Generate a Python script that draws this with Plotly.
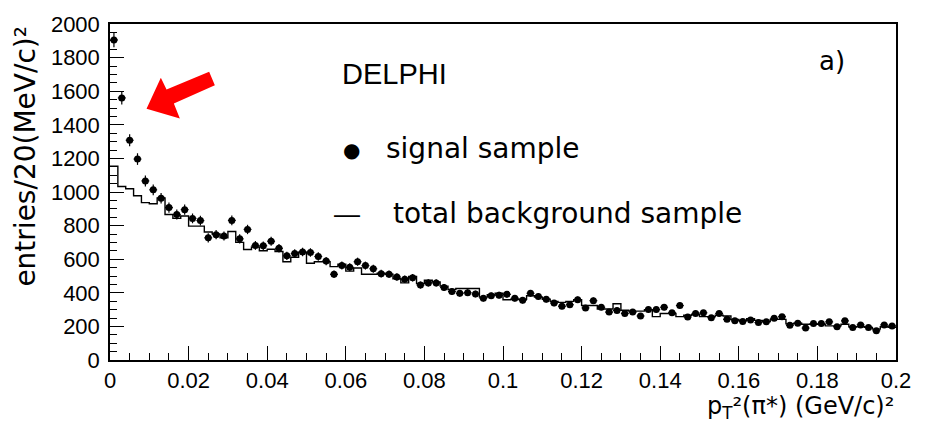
import numpy as np
import plotly.graph_objects as go

# bin edges: 100 bins of 0.002 (GeV/c)^2 from 0 to 0.2
bin_edges = np.linspace(0, 0.2, 101)
bin_centers = (bin_edges[:-1] + bin_edges[1:]) / 2

signal = [1905, 1560, 1308, 1196, 1066, 1013, 963, 907, 866, 895,
          843, 830, 727, 746, 738, 831, 721, 777, 682, 680,
          707, 665, 620, 634, 643, 640, 616, 589, 510, 562,
          552, 585, 562, 543, 514, 510, 494, 481, 490, 446,
          459, 459, 432, 407, 397, 401, 393, 368, 382, 386,
          391, 368, 355, 397, 378, 362, 339, 320, 329, 359,
          310, 353, 314, 285, 295, 277, 285, 262, 300, 300,
          314, 281, 324, 256, 277, 281, 252, 277, 242, 233,
          229, 238, 223, 227, 248, 258, 207, 219, 190, 217,
          217, 227, 198, 233, 194, 209, 194, 174, 209, 203]

background = [1153, 1033, 1019, 978, 937, 930, 965, 866, 843, 857,
              797, 797, 762, 750, 727, 765, 700, 658, 673, 650,
              659, 646, 585, 612, 642, 576, 585, 585, 556, 570,
              529, 548, 510, 510, 517, 510, 484, 459, 498, 455,
              475, 465, 440, 420, 426, 426, 426, 374, 388, 397,
              359, 362, 362, 382, 374, 362, 349, 343, 349, 359,
              324, 324, 304, 304, 335, 296, 291, 291, 300, 258,
              277, 277, 258, 266, 271, 258, 258, 266, 262, 242,
              236, 246, 236, 229, 242, 242, 215, 219, 213, 213,
              213, 203, 203, 213, 198, 198, 194, 184, 198, 194]

x_tickvals = [0, 0.02, 0.04, 0.06, 0.08, 0.1, 0.12, 0.14, 0.16, 0.18, 0.2]
x_ticktext = ["0", "0.02", "0.04", "0.06", "0.08", "0.1", "0.12", "0.14", "0.16", "0.18", "0.2"]
y_tickvals = [0, 200, 400, 600, 800, 1000, 1200, 1400, 1600, 1800, 2000]
y_ticktext = ["0", "200", "400", "600", "800", "1000", "1200", "1400", "1600", "1800", "2000"]

# where the red arrow points (data coordinates)
arrow_tip = (0.0093, 1495)

FONT = "Liberation Sans, Arial, sans-serif"
WFONT = "DejaVu Sans, Verdana, sans-serif"

sig_err = np.sqrt(np.array(signal, dtype=float))  # Poisson errors

fig = go.Figure()

fig.add_trace(go.Scatter(
    x=bin_edges,
    y=background + [background[-1]],
    mode="lines",
    line=dict(color="black", width=1.4, shape="hv"),
    showlegend=False,
    hoverinfo="skip",
))

fig.add_trace(go.Scatter(
    x=bin_centers,
    y=signal,
    mode="markers",
    marker=dict(color="black", size=7, symbol="circle"),
    error_y=dict(type="data", array=sig_err, visible=True, color="black", thickness=1.2, width=0),
    error_x=dict(type="constant", value=0.001, visible=True, color="black", thickness=1.2, width=0),
    showlegend=False,
))

axis_common = dict(
    showgrid=False, zeroline=False, showline=True, linecolor="black", linewidth=1.5,
    mirror=True, ticks="inside", tickcolor="black", tickwidth=1.2, ticklen=14,
    tickfont=dict(family=FONT, size=22, color="black"),
)

fig.update_xaxes(
    range=[0, 0.2], tickvals=x_tickvals, ticktext=x_ticktext,
    minor=dict(dtick=0.005, ticks="inside", ticklen=7, tickcolor="black", tickwidth=1.2),
    **axis_common,
)
fig.update_yaxes(
    range=[0, 2000], tickvals=y_tickvals, ticktext=y_ticktext,
    minor=dict(dtick=50, ticks="inside", ticklen=7, tickcolor="black", tickwidth=1.2),
    ticklabelstandoff=4,
    **axis_common,
)

annotations = [
    dict(text="entries/20(MeV/c)²", xref="paper", yref="paper",
         x=-0.108, y=1.0, xanchor="center", yanchor="top", textangle=-90,
         showarrow=False, font=dict(family=WFONT, size=28, color="black")),
    dict(text="p<sub>T</sub>²(π*) (GeV/c)²",
         xref="paper", yref="paper", x=1.0, y=-0.142, xanchor="right", yanchor="middle",
         showarrow=False, font=dict(family=WFONT, size=24, color="black")),
    dict(text="DELPHI", xref="paper", yref="paper", x=0.293, y=0.85,
         xanchor="left", yanchor="middle", showarrow=False,
         font=dict(family=FONT, size=29, color="black")),
    dict(text="a)", xref="paper", yref="paper", x=0.899, y=0.89,
         xanchor="left", yanchor="middle", showarrow=False,
         font=dict(family=WFONT, size=26, color="black")),
    dict(text="●", xref="paper", yref="paper", x=0.307, y=0.625,
         xanchor="center", yanchor="middle", showarrow=False,
         font=dict(family=WFONT, size=20, color="black")),
    dict(text="signal sample", xref="paper", yref="paper", x=0.349, y=0.63,
         xanchor="left", yanchor="middle", showarrow=False,
         font=dict(family=WFONT, size=28, color="black")),
    dict(text="—", xref="paper", yref="paper", x=0.302, y=0.435,
         xanchor="center", yanchor="middle", showarrow=False,
         font=dict(family=FONT, size=26, color="black")),
    dict(text="total background sample", xref="paper", yref="paper", x=0.357, y=0.435,
         xanchor="left", yanchor="middle", showarrow=False,
         font=dict(family=WFONT, size=28, color="black")),
]

arrow_path = "M0,0 L14.3,31 L20,19.4 L62.6,37 L68.3,23.7 L27.3,5.4 L33.3,-9.6 Z"

fig.update_layout(
    width=926, height=422,
    margin=dict(l=110, r=30, t=16, b=62),
    paper_bgcolor="white", plot_bgcolor="white",
    annotations=annotations,
    shapes=[dict(type="path", xref="x", yref="y", xsizemode="pixel", ysizemode="pixel",
                 xanchor=arrow_tip[0], yanchor=arrow_tip[1], path=arrow_path,
                 fillcolor="red", line=dict(width=0))],
    font=dict(family=FONT, color="black"),
)

fig.write_html("out.html")
